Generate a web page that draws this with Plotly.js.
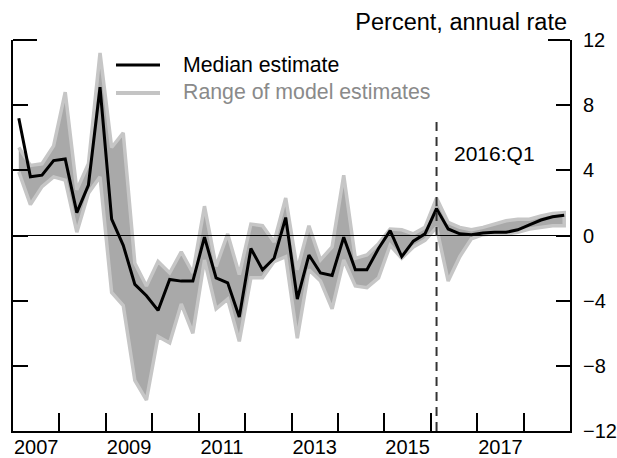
<!DOCTYPE html>
<html>
<head>
<meta charset="utf-8">
<script src="https://cdn.plot.ly/plotly-3.0.1.min.js"></script>
<style>html,body{margin:0;padding:0;background:#fff;}#chart{width:617px;height:458px;}</style>
</head>
<body>
<div id="chart"></div>
<script>
// Quarterly data, 2007:Q1 - 2018:Q4
const firstYear = 2007;
const nQuarters = 48;
const median = [7.2, 3.6, 3.7, 4.6, 4.7, 1.4, 3.1, 9.1, 1.0, -0.6,
  -3.0, -3.7, -4.6, -2.7, -2.8, -2.8, -0.1, -2.6, -2.9, -5.0,
  -0.8, -2.1, -1.4, 1.1, -3.9, -1.2, -2.3, -2.45, -0.1, -2.1,
  -2.1, -0.8, 0.3, -1.3, -0.35, 0.1, 1.65, 0.4, 0.1, 0.05,
  0.15, 0.2, 0.2, 0.35, 0.65, 0.95, 1.15, 1.25];
const rangeHigh = [5.4, 4.3, 4.4, 5.5, 8.8, 2.8, 4.4, 11.2, 5.4, 6.3,
  -1.7, -3.1, -1.6, -2.3, -1.0, -2.3, 1.8, -1.9, 0.1, -2.4,
  0.7, 0.6, -0.4, 2.3, -2.1, 0.6, -1.5, -0.7, 3.7, -1.4,
  -1.2, -0.5, 0.4, 0.35, 0.1, 0.5, 2.3, 0.8, 0.5, 0.35,
  0.5, 0.7, 0.9, 1.0, 1.0, 1.2, 1.35, 1.4];
const rangeLow = [3.9, 1.9, 3.0, 3.6, 3.4, 0.2, 2.6, 3.6, -3.5, -4.3,
  -8.9, -10.1, -6.2, -6.6, -4.2, -6.0, -1.5, -4.5, -3.9, -6.5,
  -2.6, -2.6, -1.6, -1.3, -6.3, -2.1, -2.8, -4.5, -1.5, -3.1,
  -3.2, -2.6, -0.6, -1.4, -0.7, -0.3, 0.5, -2.8, -1.3, -0.2,
  0.05, 0.1, 0.1, 0.2, 0.4, 0.5, 0.6, 0.6];
const yearTicks = [2008, 2009, 2010, 2011, 2012, 2013, 2014, 2015, 2016, 2017, 2018];
const yearLabels = ['2007', '2009', '2011', '2013', '2015', '2017'];
const yTicks = [-12, -8, -4, 0, 4, 8, 12];
const markerQuarter = '2016:Q1';

// quarter index -> decimal year at quarter centre
function qpos(year, q) { return year + (q - 0.5) / 4; }
const x = [];
for (let i = 0; i < nQuarters; i++) x.push(qpos(firstYear + Math.floor(i / 4), (i % 4) + 1));
const labelPos = yearLabels.map(s => +s + 0.5);
const mq = markerQuarter.split(':Q');
const markerX = qpos(+mq[0], +mq[1]);

const bandX = x.concat(x.slice().reverse());
const bandY = rangeHigh.concat(rangeLow.slice().reverse());

const FONT = 'Liberation Sans, Arial, sans-serif';
const traces = [
  {x: bandX, y: bandY, type: 'scatter', mode: 'lines', fill: 'toself',
   fillcolor: '#a9a9a9', line: {color: '#c6c6c6', width: 3.5}, hoverinfo: 'skip', showlegend: false},
  {x: x, y: median, type: 'scatter', mode: 'lines',
   line: {color: '#000', width: 3}, showlegend: false},
  {x: [2007.5], y: [0], xaxis: 'x2', yaxis: 'y2', type: 'scatter', mode: 'markers',
   marker: {opacity: 0}, showlegend: false, hoverinfo: 'skip'}
];

const layout = {
  width: 617, height: 458,
  margin: {l: 13, r: 47, t: 40, b: 27},
  paper_bgcolor: '#fff', plot_bgcolor: 'rgba(0,0,0,0)',
  font: {family: FONT, size: 20, color: '#000'},
  showlegend: false,
  title: {text: 'Percent, annual rate', font: {family: FONT, size: 23.5, color: '#000'},
    xref: 'container', x: 567 / 617, xanchor: 'right', yref: 'container', y: 1 - 22 / 458, yanchor: 'middle'},
  xaxis: {range: [2007, 2019], tickvals: yearTicks, ticks: 'inside', ticklen: 18, tickwidth: 2,
    tickcolor: '#000', showticklabels: false, showline: true, linewidth: 2, linecolor: '#000',
    showgrid: false, zeroline: false, fixedrange: true},
  xaxis2: {overlaying: 'x', matches: 'x', side: 'bottom', tickvals: labelPos, ticktext: yearLabels,
    ticks: '', showline: false, showgrid: false, zeroline: false, ticklabelstandoff: 2,
    tickfont: {family: FONT, size: 20, color: '#000'}},
  yaxis: {side: 'right', range: [-12, 12], tickvals: yTicks, ticks: 'inside', ticklen: 14, tickwidth: 2,
    tickcolor: '#000', showline: true, linewidth: 2, linecolor: '#000', showgrid: false,
    zeroline: false, ticklabelstandoff: 7, tickfont: {family: FONT, size: 20, color: '#000'}},
  yaxis2: {overlaying: 'y', matches: 'y', side: 'left', tickvals: yTicks, ticks: 'inside', ticklen: 15,
    tickwidth: 2, tickcolor: '#000', showline: true, linewidth: 2, linecolor: '#000',
    showticklabels: false, showgrid: false, zeroline: false},
  shapes: [
    {type: 'line', xref: 'paper', yref: 'y', x0: 0, x1: 1, y0: 0, y1: 0, line: {color: '#000', width: 1}, layer: 'above'},
    {type: 'line', xref: 'x', yref: 'paper', x0: markerX, x1: markerX, y0: 0, y1: 0.79,
     line: {color: '#333', width: 2, dash: '9px,6px'}},
    {type: 'line', xref: 'paper', yref: 'paper', x0: 0, x1: 24 / 557, y0: 1, y1: 1, line: {color: '#000', width: 2}},
    {type: 'line', xref: 'paper', yref: 'paper', x0: 1 - 22 / 557, x1: 1, y0: 1, y1: 1, line: {color: '#000', width: 2}},
    {type: 'line', xref: 'paper', yref: 'paper', x0: (116 - 13) / 557, x1: (160 - 13) / 557, y0: (431 - 65) / 391, y1: (431 - 65) / 391,
     line: {color: '#000', width: 3}},
    {type: 'line', xref: 'paper', yref: 'paper', x0: (116 - 13) / 557, x1: (160 - 13) / 557, y0: (431 - 93) / 391, y1: (431 - 93) / 391,
     line: {color: '#c4c4c4', width: 4}}
  ],
  annotations: [
    {text: 'Median estimate', xref: 'paper', yref: 'paper', x: (181 - 13) / 557, y: (431 - 65) / 391,
     xanchor: 'left', yanchor: 'middle', showarrow: false, font: {family: FONT, size: 21.3, color: '#000'}},
    {text: 'Range of model estimates', xref: 'paper', yref: 'paper', x: (181 - 13) / 557, y: (431 - 92) / 391,
     xanchor: 'left', yanchor: 'middle', showarrow: false, font: {family: FONT, size: 21.3, color: '#8a8a8a'}},
    {text: markerQuarter, xref: 'paper', yref: 'paper', x: (452 - 13) / 557, y: (431 - 153) / 391,
     xanchor: 'left', yanchor: 'middle', showarrow: false, font: {family: FONT, size: 21, color: '#000'}}
  ]
};

Plotly.newPlot('chart', traces, layout, {staticPlot: true, displayModeBar: false});
</script>
</body>
</html>
